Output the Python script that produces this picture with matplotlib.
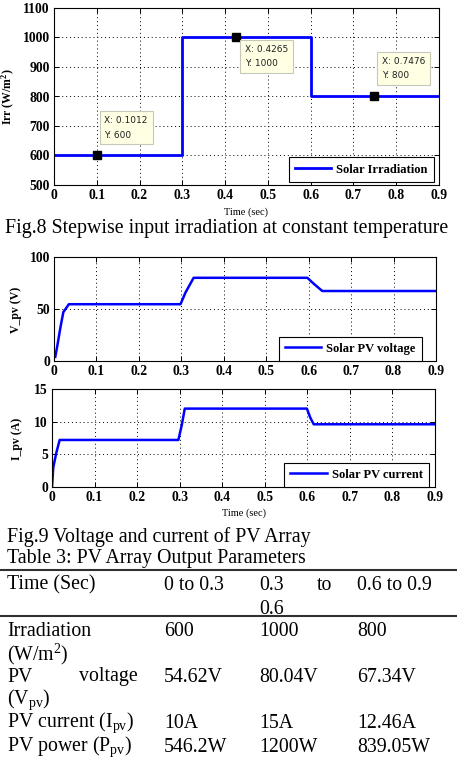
import matplotlib
matplotlib.use("Agg")
import matplotlib.pyplot as plt

# ---- data ----
t_irr = [0.0, 0.3, 0.3, 0.6, 0.6, 0.9]
irr = [600, 600, 1000, 1000, 800, 800]
tips_x = [0.1012, 0.4265, 0.7476]
tips_y = [600, 1000, 800]

t_v = [0.003, 0.008, 0.015, 0.022, 0.035, 0.298, 0.31, 0.329, 0.597, 0.61, 0.632, 0.9]
v_pv = [4, 15, 32, 47, 54.6, 54.6, 66, 80.0, 80.0, 75, 67.3, 67.3]

t_i = [0.0, 0.003, 0.01, 0.018, 0.297, 0.305, 0.312, 0.599, 0.607, 0.615, 0.9]
i_pv = [0.0, 3.0, 5.2, 7.2, 7.2, 9.5, 12.0, 12.0, 10.6, 9.6, 9.6]

tbl_head = ["Time (Sec)", "0 to 0.3", "0.3", "0.6 to 0.9"]
tbl_rows = [
    ["Irradiation", "600", "1000", "800"],
    ["PV", "54.62V", "80.04V", "67.34V"],
    [r"PV current (I$_{\mathrm{pv}}$)", "10A", "15A", "12.46A"],
    [r"PV power (P$_{\mathrm{pv}}$)", "546.2W", "1200W", "839.05W"],
]

W, H = 457, 759
SERIF = "Liberation Serif"
plt.rcParams.update({
    "font.family": SERIF,
    "mathtext.fontset": "custom",
    "mathtext.rm": SERIF,
    "mathtext.it": SERIF + ":italic",
    "mathtext.bf": SERIF + ":bold",
})

fig = plt.figure(figsize=(W / 100, H / 100), dpi=100)


def box(l, t, r, b):
    return [l / W, 1 - b / H, (r - l) / W, (b - t) / H]


def style(ax, ylim, yticks):
    ax.set_xlim(0, 0.9)
    ax.set_ylim(*ylim)
    ax.set_xticks([0, .1, .2, .3, .4, .5, .6, .7, .8, .9])
    ax.set_xticklabels(["0", "0.1", "0.2", "0.3", "0.4", "0.5", "0.6", "0.7", "0.8", "0.9"])
    ax.set_yticks(yticks)
    ax.tick_params(direction="in", top=True, right=True, length=3.5, width=0.7,
                   labelsize=9.8, pad=3)
    for lab in ax.get_xticklabels() + ax.get_yticklabels():
        lab.set_fontweight("bold")
    ax.grid(True, ls=(0, (1, 3)), color="k", lw=0.7)
    for s in ax.spines.values():
        s.set_linewidth(0.8)


def legend(ax, label, anchor):
    lg = ax.legend([label], loc="lower right", bbox_to_anchor=anchor,
                   borderaxespad=0, fancybox=False, framealpha=1,
                   edgecolor="k", handlelength=2.9, handletextpad=0.4,
                   borderpad=0.5, prop={"family": SERIF, "weight": "bold", "size": 9})
    lg.get_frame().set_linewidth(0.8)


# ---- Fig. 8 ----
ax1 = fig.add_axes(box(54, 8, 439, 185))
ax1.plot(t_irr, irr, color="#0000FF", lw=2)
style(ax1, (500, 1100), range(500, 1101, 100))
ax1.set_ylabel(r"Irr (W/m$^{\mathbf{2}}$)", fontsize=8.5, fontweight="bold")
ax1.yaxis.set_label_coords(-0.096, 0.5)
ax1.set_xlabel("Time (sec)", fontsize=7.5, labelpad=4)
legend(ax1, "Solar Irradiation", (0.987, 0.017))
ax1.plot(tips_x, tips_y, ls="none", marker="s", ms=5.5, color="k", zorder=5)
tip_pos = [(0.118, 733), (0.447, 975), (0.767, 934)]
for (tx, ty), x, y in zip(tip_pos, tips_x, tips_y):
    ax1.text(tx, ty, f"X: {x:.4f}\nY: {y}", fontsize=6.5, family="DejaVu Sans",
             color="#202020", va="top", ha="left", linespacing=1.75, zorder=6,
             bbox=dict(boxstyle="square,pad=0.55", fc="#FFFFE4", ec="#C8C8B8", lw=0.8))

fig.text(5 / W, 1 - 228 / H, "Fig.8 Stepwise input irradiation at constant temperature",
         fontsize=14.3, va="center", ha="left")

# ---- Fig. 9 ----
ax2 = fig.add_axes(box(54, 257, 436, 361))
ax2.plot(t_v, v_pv, color="#0000FF", lw=1.8)
style(ax2, (0, 100), [0, 50, 100])
ax2.set_ylabel("V_pv (V)", fontsize=8.5, fontweight="bold")
ax2.yaxis.set_label_coords(-0.084, 0.49)
legend(ax2, "Solar PV voltage", (0.963, 0.0))

ax3 = fig.add_axes(box(52, 389, 435, 487))
ax3.plot(t_i, i_pv, color="#0000FF", lw=1.8)
style(ax3, (0, 15), [0, 5, 10, 15])
ax3.set_ylabel("I_pv (A)", fontsize=8.5, fontweight="bold")
ax3.yaxis.set_label_coords(-0.076, 0.49)
ax3.set_xlabel("Time (sec)", fontsize=7.5, labelpad=3)
legend(ax3, "Solar PV current", (0.984, 0.0))

fig.text(7 / W, 1 - 537 / H, "Fig.9 Voltage and current of PV Array",
         fontsize=14.3, va="center", ha="left")
fig.text(7 / W, 1 - 559 / H, "Table 3: PV Array Output Parameters",
         fontsize=14.3, va="center", ha="left")

# ---- Table 3 ----
for yl in (570, 616):
    fig.add_artist(plt.Line2D([0, 1], [1 - yl / H] * 2, color="#303030", lw=1.5))

col_x = [7, 164, 259, 357]
fs = 14.3


def cell(x, y, s, ha="left"):
    fig.text(x / W, 1 - y / H, s, fontsize=fs, va="center", ha=ha)


for x, s in zip(col_x, tbl_head):
    cell(x, 585, s)
cell(332, 585, "to", ha="right")
cell(259, 609, "0.6")

row_y = [631, 677, 723, 747]
for y, row in zip(row_y, tbl_rows):
    for x, s in zip(col_x, row):
        cell(x, y, s)
cell(138, 677, "voltage", ha="right")
cell(7, 654, r"(W/m$^{2}$)")
cell(7, 700, r"(V$_{\mathrm{pv}}$)")

fig.savefig("out.png", dpi=100)
